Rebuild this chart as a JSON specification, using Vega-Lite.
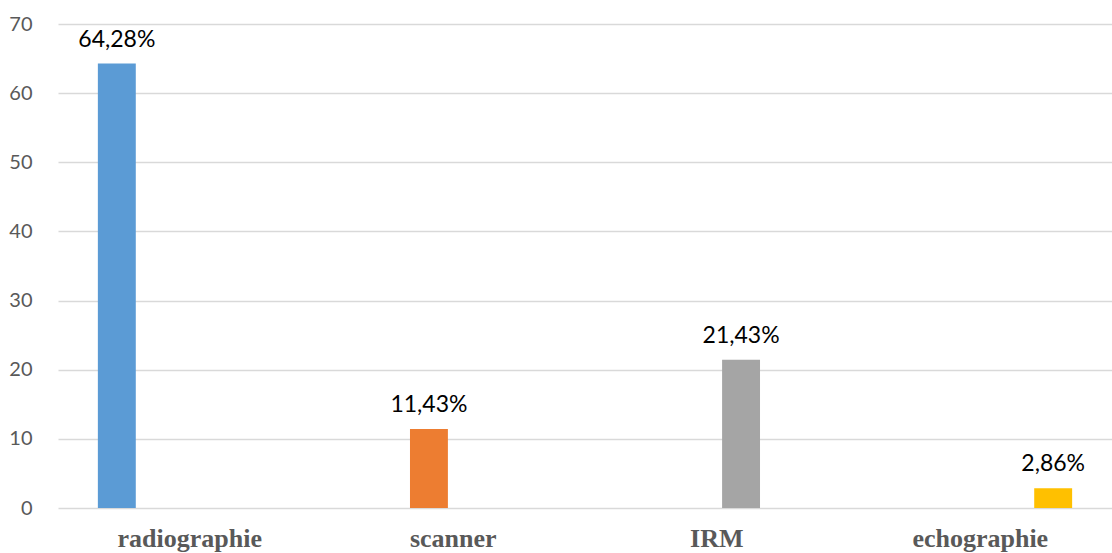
{
  "$schema": "https://vega.github.io/schema/vega-lite/v6.json",
  "width": 1054,
  "height": 484,
  "autosize": {"type": "none"},
  "padding": {"left": 58, "top": 24, "right": 0, "bottom": 45},
  "background": "white",
  "data": {
    "values": [
      {"examen": "radiographie", "pct": 64.28},
      {"examen": "scanner", "pct": 11.43},
      {"examen": "IRM", "pct": 21.43},
      {"examen": "echographie", "pct": 2.86}
    ]
  },
  "transform": [
    {"calculate": "replace(format(datum.pct, '.2f'), '.', ',') + '%'", "as": "etiquette"}
  ],
  "encoding": {
    "x": {
      "field": "examen",
      "type": "nominal",
      "sort": ["radiographie", "scanner", "IRM", "echographie"],
      "scale": {"paddingInner": 0, "paddingOuter": 0},
      "axis": {
        "title": null,
        "domain": false,
        "ticks": false,
        "grid": false,
        "labelAngle": 0,
        "labelFont": "Liberation Serif",
        "labelFontWeight": "bold",
        "labelFontSize": 26,
        "labelColor": "#595959",
        "labelPadding": 17
      }
    },
    "xOffset": {
      "field": "examen",
      "type": "nominal",
      "sort": ["radiographie", "scanner", "IRM", "echographie"],
      "scale": {"paddingInner": 0.22, "paddingOuter": 0.82}
    },
    "y": {
      "field": "pct",
      "type": "quantitative",
      "scale": {"domain": [0, 70], "nice": false},
      "axis": {
        "title": null,
        "values": [0, 10, 20, 30, 40, 50, 60, 70],
        "domain": false,
        "ticks": false,
        "grid": true,
        "gridColor": "#d9d9d9",
        "gridWidth": 1.5,
        "labelFont": "Lato",
        "labelFontSize": 20,
        "labelColor": "#595959",
        "labelPadding": 26
      }
    }
  },
  "layer": [
    {
      "mark": {"type": "bar"},
      "encoding": {
        "color": {
          "field": "examen",
          "type": "nominal",
          "scale": {
            "domain": ["radiographie", "scanner", "IRM", "echographie"],
            "range": ["#5b9bd5", "#ed7d31", "#a5a5a5", "#ffc000"]
          },
          "legend": null
        }
      }
    },
    {
      "mark": {
        "type": "text",
        "font": "Lato",
        "fontSize": 23,
        "color": "#000000",
        "baseline": "alphabetic",
        "dy": -17
      },
      "encoding": {
        "text": {"field": "etiquette", "type": "nominal"}
      }
    }
  ],
  "config": {
    "view": {"stroke": null}
  }
}
